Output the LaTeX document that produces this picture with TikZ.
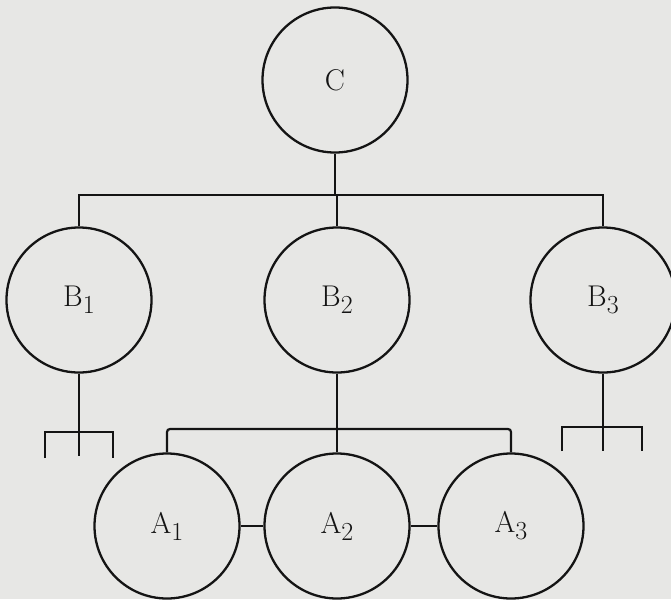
\documentclass[tikz,border=0pt]{standalone}
\usepackage{fontspec}
\usetikzlibrary{calc}
\definecolor{paper}{RGB}{231,231,229}
\definecolor{ink}{RGB}{20,20,20}
\newcommand{\lab}[2]{#1\raisebox{-7pt}{\fontsize{26}{28}\selectfont #2}}
\begin{document}
\begin{tikzpicture}[x=1pt,y=-1pt,
  unit/.style={circle,draw=ink,line width=2.3pt,minimum size=145pt,inner sep=0pt,
    font=\fontsize{30}{34}\selectfont,text=ink},
  link/.style={draw=ink,line width=2.2pt}]
\fill[paper] (0,0) rectangle (671,599);
\useasboundingbox (0,0) rectangle (671,599);
% nodes
\node[unit] (C)  at (335,80)  {C};
\node[unit] (B1) at (79,300)  {\lab{B}{1}};
\node[unit] (B2) at (337,300) {\lab{B}{2}};
\node[unit] (B3) at (603,300) {\lab{B}{3}};
\node[unit] (A1) at (167,526) {\lab{A}{1}};
\node[unit] (A2) at (337,526) {\lab{A}{2}};
\node[unit] (A3) at (511,526) {\lab{A}{3}};
% upper tree
\coordinate (hb) at (335,195);
\draw[link] (C.south) -- (hb);
\draw[link] (B1.north) |- (hb) -| (B3.north);
\draw[link] (hb -| B2.north) -- (B2.north);
% lower tree
\coordinate (hl) at (337,429);
\draw[link] (B2.south) -- (A2.north);
\draw[link,rounded corners=3pt] (A1.north) |- (hl) -| (A3.north);
\draw[link] (A1.east) -- (A2.west);
\draw[link] (A2.east) -- (A3.west);
% open forks under B1 and B3
\coordinate (f1) at (79,432);
\draw[link] (B1.south) -- (f1) -- ++(0,24);
\draw[link] ($(f1)+(-34,26)$) -- ++(0,-26) -- ++(68,0) -- ++(0,26);
\coordinate (f3) at (603,427);
\draw[link] (B3.south) -- (f3) -- ++(0,24);
\draw[link] ($(f3)+(-41,24)$) -- ++(0,-24) -- ++(80,0) -- ++(0,24);
\end{tikzpicture}
\end{document}
